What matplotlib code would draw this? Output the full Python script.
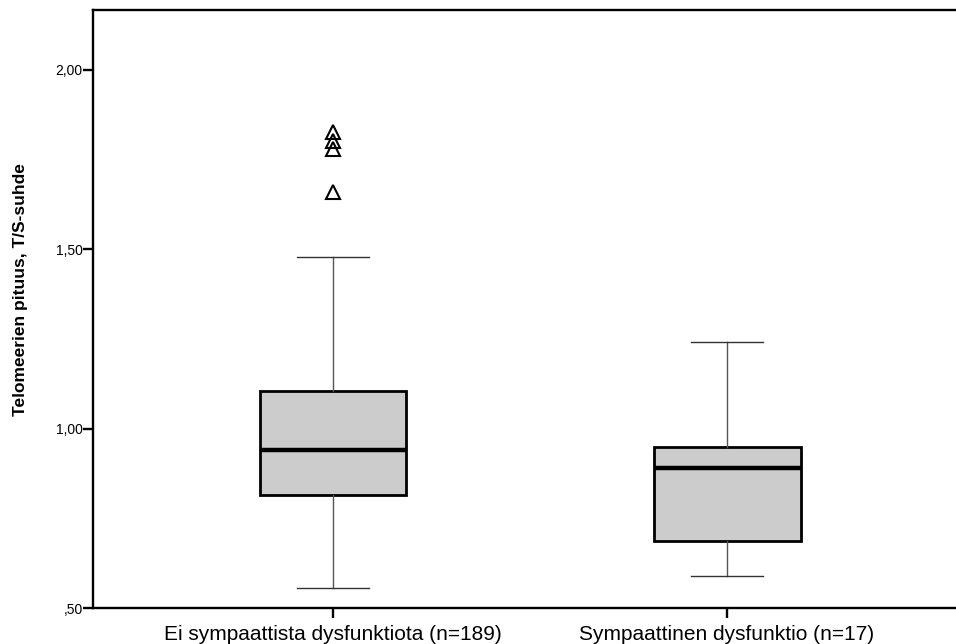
import matplotlib
matplotlib.use("Agg")
import matplotlib.pyplot as plt

plt.rcParams['font.family'] = ['Liberation Sans', 'DejaVu Sans']

# Values
groups = ["Ei sympaattista dysfunktiota (n=189)", "Sympaattinen dysfunktio (n=17)"]
q1 = [0.814, 0.687]
medians = [0.940, 0.889]
q3 = [1.104, 0.948]
whislo = [0.557, 0.590]
whishi = [1.479, 1.240]
fliers = [[1.826, 1.80, 1.78, 1.66], []]

yticks = [0.5, 1.0, 1.5, 2.0]
ytick_labels = [",50", "1,00", "1,50", "2,00"]

stats = []
for i, g in enumerate(groups):
    stats.append(dict(label=g, q1=q1[i], med=medians[i], q3=q3[i],
                      whislo=whislo[i], whishi=whishi[i], fliers=fliers[i]))

fig = plt.figure(figsize=(9.56, 6.44), dpi=100)
ax = fig.add_axes([0.0973, 0.0559, 0.9027, 0.9286])

ax.bxp(stats, positions=[1, 2], widths=0.373, capwidths=0.183,
       patch_artist=True,
       boxprops=dict(facecolor='#cccccc', edgecolor='black', linewidth=2),
       medianprops=dict(color='black', linewidth=3.2),
       whiskerprops=dict(color='#555555', linewidth=1),
       capprops=dict(color='#333333', linewidth=1),
       flierprops=dict(marker='^', markerfacecolor='none', markeredgecolor='black',
                       markersize=10, markeredgewidth=1.5))

ax.set_xlim(0.391, 2.581)
ax.set_ylim(0.5, 2.166)
ax.set_yticks(yticks)
ax.set_yticklabels(ytick_labels, fontsize=10)
ax.set_xticks([1, 2])
ax.set_xticklabels(groups, fontsize=15)
ax.tick_params(axis='both', direction='out', length=7, width=1.7)
ax.tick_params(axis='y', pad=0.5)
ax.tick_params(axis='x', pad=5)

for s in ['left', 'bottom', 'top']:
    ax.spines[s].set_linewidth(1.7)
ax.spines['right'].set_visible(False)

ax.set_ylabel("Telomeerien pituus, T/S-suhde", fontsize=12.5, fontweight='bold')
ax.yaxis.set_label_coords(-0.075, 0.532)

fig.savefig("out.png", dpi=100)
